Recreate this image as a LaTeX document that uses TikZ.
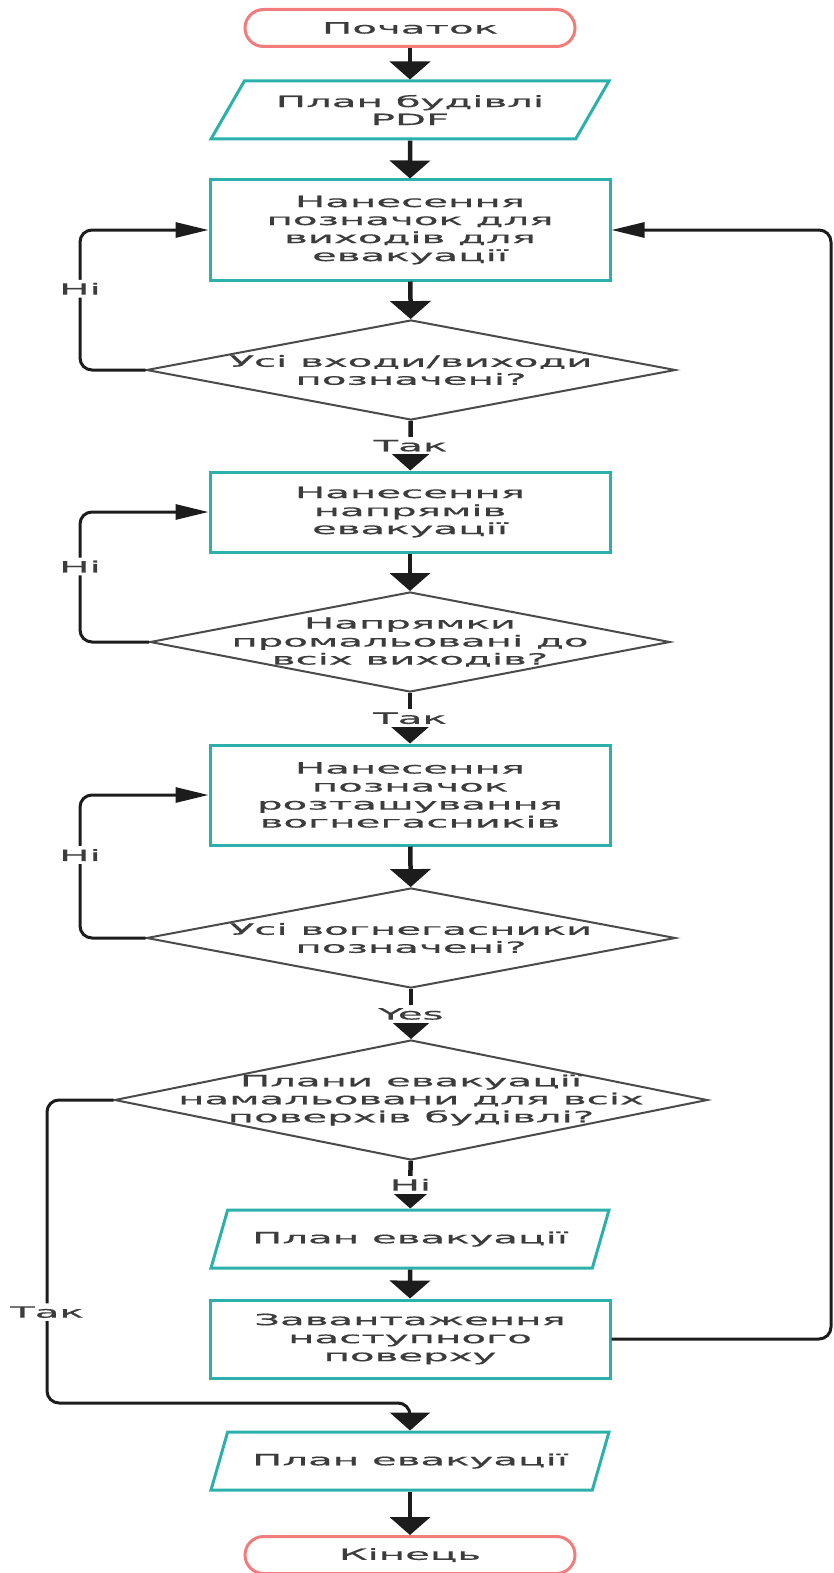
\documentclass[tikz,border=0pt]{standalone}
\usepackage{fontspec}
\usepackage{tikz}
\usetikzlibrary{shapes.geometric,arrows.meta}
\newfontfamily\flowfont{DejaVu Sans}[FakeStretch=2.6,FakeBold=0.6]
\definecolor{tealline}{HTML}{2BB0AB}
\definecolor{pinkline}{HTML}{F27B7B}
\definecolor{greyline}{HTML}{4A4A4A}
\definecolor{inkline}{HTML}{1C1C1C}
\definecolor{textgrey}{HTML}{3C3C3C}
\tikzset{
  terminal/.style={draw=pinkline,line width=3pt,rounded corners=18.5pt,
    minimum width=330pt,minimum height=37pt,inner sep=0pt},
  process/.style={draw=tealline,line width=3pt,minimum width=400pt,
    inner sep=0pt,align=center},
  datain/.style={draw=tealline,line width=3pt,trapezium,
    trapezium left angle=42,trapezium right angle=138,
    trapezium stretches body,minimum width=398pt,minimum height=58pt,
    inner sep=0pt,align=center},
  decision/.style={draw=greyline,line width=2pt,diamond,inner sep=0pt,
    minimum height=100pt},
  flow/.style={draw=inkline,line width=4.5pt,
    -{Triangle[length=18pt,width=40pt]}},
  loopline/.style={draw=inkline,line width=3pt,rounded corners=12pt,
    -{Triangle[length=33pt,width=15pt]}},
  lbl/.style={fill=white,inner sep=3pt,text=textgrey}
}
\begin{document}
\begin{tikzpicture}[x=1pt,y=1pt,
    font=\flowfont\fontsize{15.5}{18}\selectfont,text=textgrey]
  \useasboundingbox (0,0) rectangle (833,-1573);
  % main column
  \node[terminal] (start) at (410,-28) {Початок};
  \node[datain] (pdfplan) at (410,-110) {План будівлі\\PDF};
  \node[process,minimum height=100pt] (exits) at (410,-230)
    {Нанесення\\позначок для\\виходів для\\евакуації};
  \node[decision,minimum width=529pt] (exitsdone) at (411,-370) {};
  \node[align=center] at (exitsdone) {Усі входи/виходи\\позначені?};
  \node[process,minimum height=80pt] (routes) at (410,-512)
    {Нанесення\\напрямів\\евакуації};
  \node[decision,minimum width=520pt] (routesdone) at (410,-642) {};
  \node[align=center] at (routesdone) {Напрямки\\промальовані до\\всіх виходів?};
  \node[process,minimum height=100pt] (extinguishers) at (410,-795)
    {Нанесення\\позначок\\розташування\\вогнегасників};
  \node[decision,minimum width=529pt] (extdone) at (411,-938) {};
  \node[align=center] at (extdone) {Усі вогнегасники\\позначені?};
  \node[decision,minimum width=593pt,minimum height=120pt] (floorsdone)
    at (411,-1100) {};
  \node[align=center] at (floorsdone)
    {Плани евакуації\\намальовани для всіх\\поверхів будівлі?};
  \node[datain] (floorplan) at (410,-1239) {План евакуації};
  \node[process,minimum height=78pt] (nextfloor) at (410,-1339)
    {Завантаження\\наступного\\поверху};
  \node[datain] (finalplan) at (410,-1461) {План евакуації};
  \node[terminal] (finish) at (410,-1555) {Кінець};
  % connectors
  \draw[flow] (start) -- (pdfplan);
  \draw[flow] (pdfplan) -- (exits);
  \draw[flow] (exits) -- (exitsdone);
  \draw[flow] (exitsdone) -- node[lbl] {Так} (routes);
  \draw[flow] (routes) -- (routesdone);
  \draw[flow] (routesdone) -- node[lbl] {Так} (extinguishers);
  \draw[flow] (extinguishers) -- (extdone);
  \draw[flow] (extdone) -- node[lbl] {Yes} (floorsdone);
  \draw[flow] (floorsdone) -- node[lbl] {Ні} (floorplan);
  \draw[flow] (floorplan) -- (nextfloor);
  \draw[flow] (finalplan) -- (finish);
  % loops back
  \draw[loopline] (exitsdone.west) -- (80,-370)
    |- node[pos=0.29,lbl] {Ні} (exits.west);
  \draw[loopline] (routesdone.west) -- (80,-642)
    |- node[pos=0.29,lbl] {Ні} (routes.west);
  \draw[loopline] (extdone.west) -- (80,-938)
    |- node[pos=0.29,lbl] {Ні} (extinguishers.west);
  \draw[loopline] (nextfloor.east) -- (831,-1339) |- (exits.east);
  \draw[loopline,-{Triangle[length=18pt,width=40pt]}] (floorsdone.west)
    -- (47,-1100) -- node[pos=0.7,lbl] {Так} (47,-1403) -| (finalplan.north);
\end{tikzpicture}
\end{document}
